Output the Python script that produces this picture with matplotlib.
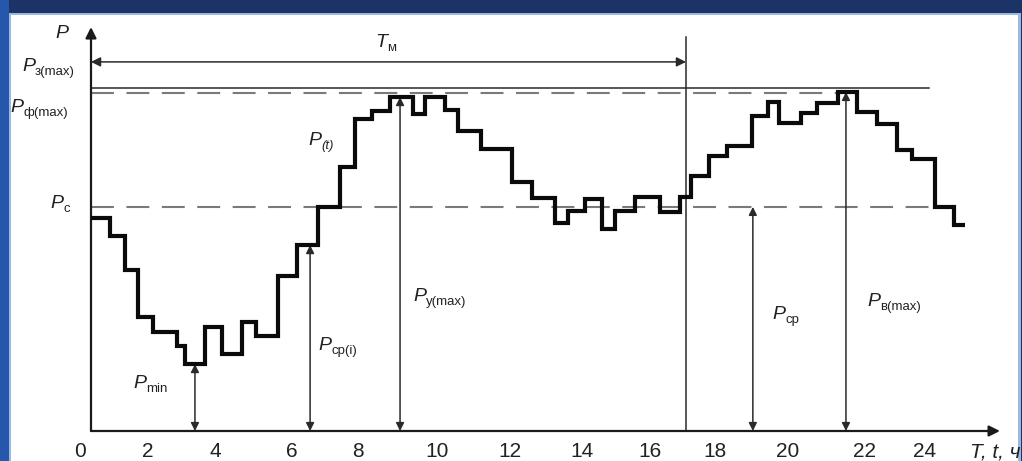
import matplotlib.pyplot as plt
from matplotlib.patches import Rectangle

plt.rcParams['font.family'] = ['Liberation Sans', 'DejaVu Sans']

# load curve P(t): step edges (hours) and levels between them
t_edges = [0, 0.54, 0.97, 1.34, 1.77, 2.46, 2.69, 3.26, 3.74, 4.31, 4.71, 5.34, 5.89,
           6.49, 7.11, 7.54, 8.03, 8.54, 9.2, 9.54, 10.11, 10.49, 11.14, 12.03,
           12.6, 13.26, 13.63, 14.11, 14.6, 14.97, 15.54, 16.26, 16.83, 17.14, 17.66,
           18.17, 18.89, 19.34, 19.66, 20.29, 20.74, 21.34, 21.89, 22.46, 23.03,
           23.46, 24.11, 24.66, 24.97]
p_levels = [63.0, 57.7, 47.6, 33.7, 29.3, 25.1, 19.8, 30.8, 22.8, 32.2, 28.1, 45.9,
            55.0, 66.3, 78.1, 92.3, 94.7, 98.8, 93.8, 98.8, 95.0, 88.8, 83.4, 73.7,
            68.9, 61.5, 65.1, 68.6, 59.8, 65.1, 69.2, 64.8, 69.2, 75.4, 81.4, 84.3,
            93.2, 97.3, 91.1, 94.1, 97.0, 100.3, 94.4, 90.8, 83.1, 80.5, 66.3, 60.9]

# reference levels
P_z_max = 101.5   # P з(max), solid
P_f_max = 100.0   # P ф(max), dashed
P_c = 66.3        # P с, dashed
T_m = 17.0        # T м

# tick labels (positions as drawn in the picture)
tick_pos = [-0.31, 1.63, 3.54, 5.74, 7.63, 9.89, 11.97, 14.03, 15.97, 17.83, 19.89, 22.11, 23.83]
tick_lab = ['0', '2', '4', '6', '8', '10', '12', '14', '16', '18', '20', '22', '24']

# double arrows: time and top value
arr_t = [2.97, 6.26, 8.83, 18.91, 21.57]
arr_top = [min(p_levels), 55.0, 98.8, P_c, max(p_levels)]

# labels: (left t, baseline P, subscript)
lab_t = [-2.31, -1.17, 6.2, 1.2, 6.49, 9.2, 19.46, 22.17]
lab_p = [94.4, 66.0, 84.6, 12.7, 24.0, 38.5, 33.1, 37.0]
lab_sub = ['ф(max)', 'с', '(t)', 'min', 'ср(i)', 'у(max)', 'ср', 'в(max)']

W, H = 1022, 461
fig = plt.figure(figsize=(W / 100, H / 100), dpi=100)
fig.patch.set_facecolor('#1c3366')
fig.patches.append(Rectangle((0, 0), 9 / W, 1, transform=fig.transFigure,
                             facecolor='#2558ac', edgecolor='none', zorder=-3))
fig.patches.append(Rectangle((9 / W, 0), 1012 / W, (H - 13) / H, transform=fig.transFigure,
                             facecolor='#9db8e0', edgecolor='none', zorder=-2))
fig.patches.append(Rectangle((11 / W, 0), 1007 / W, (H - 15) / H, transform=fig.transFigure,
                             facecolor='white', edgecolor='none', zorder=-1))

ax = fig.add_axes([0, 0, 1, 1])
ax.set_zorder(5)
ax.set_xlim(-91 / 35, 931 / 35)
ax.set_ylim(-30 / 3.38, 431 / 3.38)
ax.axis('off')

ink = '#1a1a1a'
thin = '#2a2a2a'

# axes with arrows
ax.annotate('', xy=(0, 119.5), xytext=(0, 0),
            arrowprops=dict(arrowstyle='-|>', color=ink, lw=1.6, mutation_scale=16,
                            shrinkA=0, shrinkB=0))
ax.annotate('', xy=(25.97, 0), xytext=(0, 0),
            arrowprops=dict(arrowstyle='-|>', color=ink, lw=1.6, mutation_scale=16,
                            shrinkA=0, shrinkB=0))

# reference lines
ax.plot([0, 23.94], [P_z_max, P_z_max], color=thin, lw=1.1)
ax.plot([0, 21.34], [P_f_max, P_f_max], color='#7a7a7a', lw=1.5, dashes=(11, 6))
ax.plot([0, 23.97], [P_c, P_c], color='#7a7a7a', lw=1.5, dashes=(11, 6))
ax.plot([T_m, T_m], [0, 116.6], color=thin, lw=1.1)

# T_m span arrow
ax.annotate('', xy=(T_m, 109.2), xytext=(0, 109.2),
            arrowprops=dict(arrowstyle='<|-|>', color=thin, lw=1.1, mutation_scale=14,
                            shrinkA=0, shrinkB=0))

# load curve
ax.stairs(p_levels, t_edges, baseline=None, color='#0a0a0a', lw=3.0, zorder=5)

# vertical double arrows
for t, top in zip(arr_t, arr_top):
    ax.annotate('', xy=(t, top), xytext=(t, 0),
                arrowprops=dict(arrowstyle='<|-|>', color=thin, lw=1.1, mutation_scale=12,
                                shrinkA=0, shrinkB=0), zorder=4)


def sub_label(t, p, main, sub, sub_style='normal'):
    m = ax.text(t, p, main, fontsize=14, style='italic', color='#222', ha='left', va='baseline')
    ax.annotate(sub, xy=(1, 0), xycoords=m, xytext=(0, 0), textcoords='offset points',
                fontsize=9.5, style=sub_style, color='#222', ha='left', va='baseline')


ax.text(-1.03, 116.3, 'P', fontsize=14, style='italic', color='#222', ha='left', va='baseline')
sub_label(-1.97, 106.5, 'P', 'з(max)')
sub_label(8.11, 113.6, 'T', 'м')
for t, p, s in zip(lab_t, lab_p, lab_sub):
    sub_label(t, p, 'P', s, 'italic' if s == '(t)' else 'normal')

for pos, lab in zip(tick_pos, tick_lab):
    ax.text(pos, -3.3, lab, fontsize=15, color='#222', ha='center', va='top')
ax.text(25.1, -3.3, 'T, t, ч', fontsize=15, style='italic', color='#222', ha='left', va='top')

fig.savefig('out.png', dpi=100, facecolor=fig.get_facecolor())
